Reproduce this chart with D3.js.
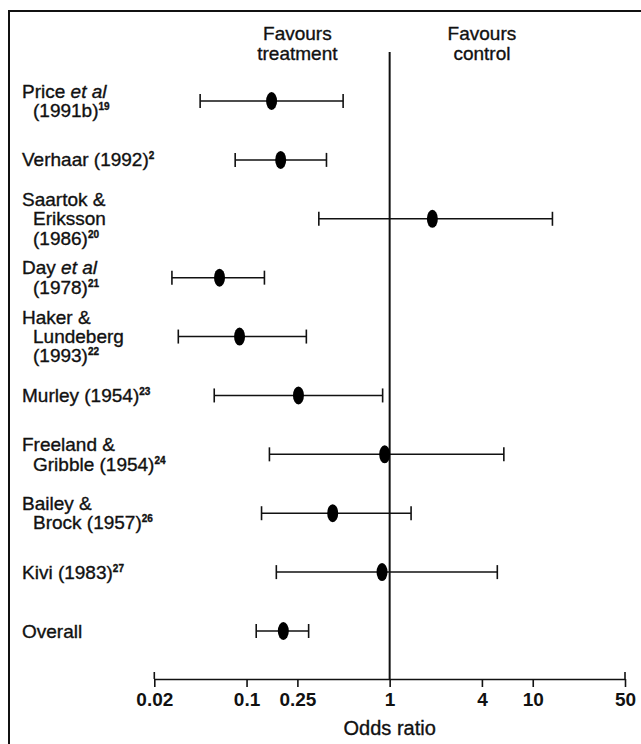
<!DOCTYPE html>
<html>
<head>
<meta charset="utf-8">
<script src="https://cdn.jsdelivr.net/npm/d3@7"></script>
<style>
  html, body { margin: 0; padding: 0; background: #fff; }
  svg { display: block; }
  text { font-family: "Liberation Sans", Arial, Helvetica, sans-serif; fill: #111; }
  text.heavy { stroke: #111; stroke-width: 0.35px; }
</style>
</head>
<body>
<svg id="chart" width="641" height="744"></svg>
<script>
// ---- data ----
const studies = ["Price 1991b", "Verhaar 1992", "Saartok 1986", "Day 1978", "Haker 1993",
                 "Murley 1954", "Freeland 1954", "Bailey 1957", "Kivi 1983", "Overall"];
// label lines; *...* = italic
const labelLines = [
  ["Price *et al*", "(1991b)"],
  ["Verhaar (1992)"],
  ["Saartok &", "Eriksson", "(1986)"],
  ["Day *et al*", "(1978)"],
  ["Haker &", "Lundeberg", "(1993)"],
  ["Murley (1954)"],
  ["Freeland &", "Gribble (1954)"],
  ["Bailey &", "Brock (1957)"],
  ["Kivi (1983)"],
  ["Overall"]
];
const refs = ["19", "2", "20", "21", "22", "23", "24", "26", "27", ""];
const oddsRatio = [0.157, 0.185, 1.90, 0.0624, 0.0885, 0.254, 0.928, 0.425, 0.892, 0.194];
const ciLow     = [0.0445, 0.082, 0.345, 0.0272, 0.0304, 0.0569, 0.151, 0.131, 0.171, 0.119];
const ciHigh    = [0.497, 0.387, 14.1, 0.138, 0.286, 0.90, 5.94, 1.38, 5.28, 0.296];
const tickValues = [0.02, 0.1, 0.25, 1, 4, 10, 50];
const tickLabels = ["0.02", "0.1", "0.25", "1", "4", "10", "50"];
// relative spacing of the axis stops as printed (axis is a stretched log axis)
const tickStops = [0, 0.196, 0.304, 0.5, 0.696, 0.804, 1];
const headerLeft = ["Favours", "treatment"];
const headerRight = ["Favours", "control"];
const xTitle = "Odds ratio";

// ---- layout ----
const svg = d3.select("#chart");
const x0 = 154.3, x1 = 625;
const axisY = 679;
const x = d3.scaleLog()
  .domain(tickValues)
  .range(tickStops.map(f => x0 + f * (x1 - x0)));
const y = d3.scalePoint().domain(studies).range([101, 631]);

// frame
svg.append("rect").attr("x", 9).attr("y", 11).attr("width", 660).attr("height", 760)
  .attr("fill", "none").attr("stroke", "#111").attr("stroke-width", 2);

// header texts
function header(lines, cx) {
  lines.forEach((l, i) => svg.append("text").attr("class", "heavy")
    .attr("text-anchor", "middle").attr("font-size", 19)
    .attr("x", cx).attr("y", 40 + i * 19.5).text(l));
}
header(headerLeft, x(0.25));
header(headerRight, x(4));

// reference line at 1
svg.append("line").attr("x1", x(1)).attr("x2", x(1)).attr("y1", 52).attr("y2", axisY)
  .attr("stroke", "#111").attr("stroke-width", 2);

// axis
const axis = d3.axisBottom(x).tickValues(tickValues)
  .tickFormat((d, i) => tickLabels[i]).tickSize(8).tickSizeOuter(0).tickPadding(6);
const gAxis = svg.append("g").attr("transform", `translate(0,${axisY})`).call(axis);
gAxis.select(".domain").attr("stroke", "#111").attr("stroke-width", 1.6);
gAxis.selectAll(".tick line").attr("stroke", "#111").attr("stroke-width", 1.6);
gAxis.selectAll(".tick text").attr("font-size", 19).attr("font-weight", "bold")
  .attr("fill", "#111").attr("font-family", '"Liberation Sans", Arial, sans-serif');
// end ticks extend above
[tickValues[0], tickValues[tickValues.length - 1]].forEach(v => {
  svg.append("line").attr("x1", x(v)).attr("x2", x(v)).attr("y1", axisY - 7).attr("y2", axisY)
    .attr("stroke", "#111").attr("stroke-width", 1.6);
});

svg.append("text").attr("class", "heavy").attr("x", x(1)).attr("y", 735)
  .attr("text-anchor", "middle").attr("font-size", 20).text(xTitle);

// labels
const lineH = 19.4;
studies.forEach((s, i) => {
  const lines = labelLines[i];
  const yc = y(s);
  const first = yc + 6.5 - (lines.length - 1) * lineH / 2;
  lines.forEach((l, j) => {
    const t = svg.append("text").attr("class", "heavy")
      .attr("x", j === 0 ? 22 : 33).attr("y", first + j * lineH)
      .attr("font-size", 19);
    const parts = l.split("*");
    parts.forEach((p, k) => {
      if (p.length === 0) return;
      t.append("tspan").attr("font-style", k % 2 === 1 ? "italic" : "normal").text(p);
    });
    if (j === lines.length - 1 && refs[i]) {
      t.append("tspan").attr("dy", -7).attr("font-size", 10).attr("font-weight", "bold")
        .text(refs[i]);
    }
  });
});

// error bars
const g = svg.append("g");
studies.forEach((s, i) => {
  const yy = y(s);
  g.append("line").attr("x1", x(ciLow[i])).attr("x2", x(ciHigh[i]))
    .attr("y1", yy).attr("y2", yy).attr("stroke", "#111").attr("stroke-width", 1.5);
  [ciLow[i], ciHigh[i]].forEach(v => {
    g.append("line").attr("x1", x(v)).attr("x2", x(v)).attr("y1", yy - 7).attr("y2", yy + 7)
      .attr("stroke", "#111").attr("stroke-width", 1.6);
  });
  g.append("ellipse").attr("cx", x(oddsRatio[i])).attr("cy", yy).attr("rx", 5.5).attr("ry", 9)
    .attr("fill", "#000");
});
</script>
</body>
</html>
